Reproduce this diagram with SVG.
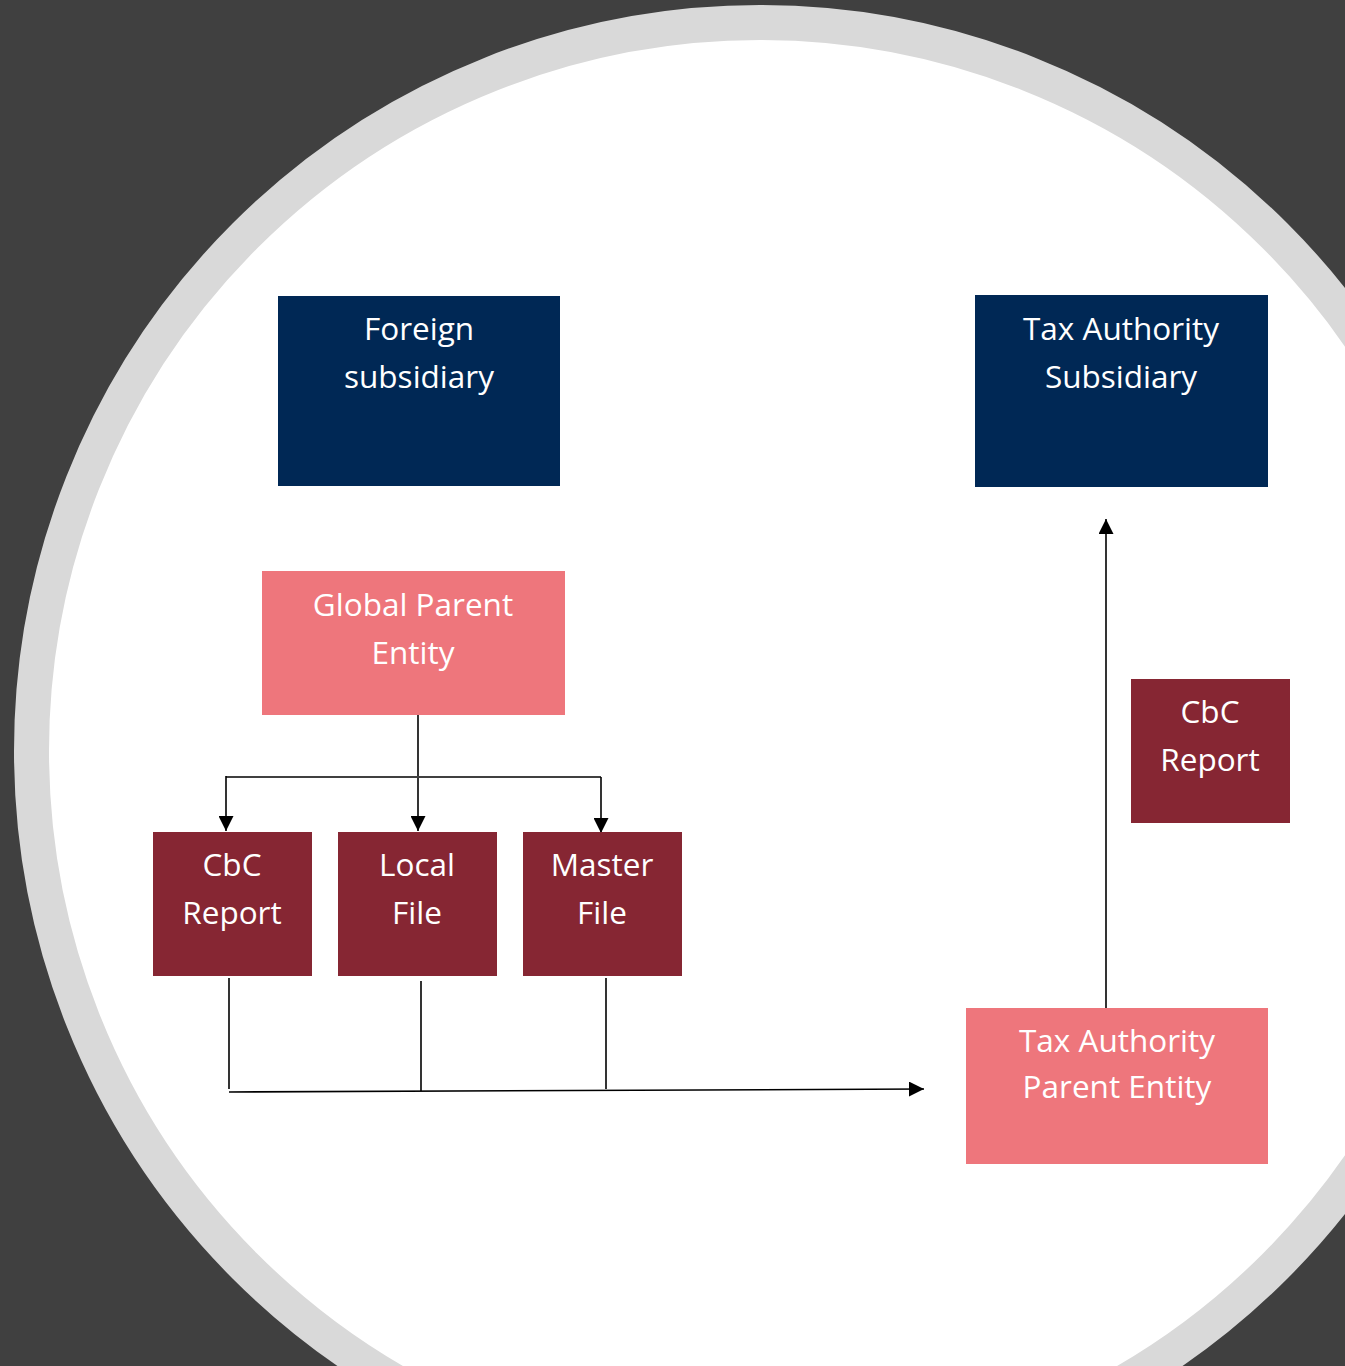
<svg xmlns="http://www.w3.org/2000/svg" width="1345" height="1366" viewBox="0 0 1345 1366">
<defs>
<style>
.nv{fill:#002855}
.pk{fill:#EE767C}
.mr{fill:#862633}
.t{font-family:"Open Sans","Noto Sans","Liberation Sans",sans-serif;font-size:31.5px;fill:#ffffff;text-anchor:middle}
.ln{stroke:#000;stroke-width:1.6;fill:none}
.lg{stroke:#404040;stroke-width:2;fill:none}
</style>
<marker id="ah" viewBox="0 0 10 10" refX="10" refY="5" markerWidth="15" markerHeight="15" markerUnits="userSpaceOnUse" orient="auto">
<path d="M0,0 L10,5 L0,10 Z" fill="#000"/>
</marker>
</defs>
<rect x="0" y="0" width="1345" height="1366" fill="#404040"/>
<circle cx="760" cy="751" r="728.5" fill="#ffffff" stroke="#D9D9D9" stroke-width="35"/>

<g id="connectors">
<line class="ln" x1="418" y1="715" x2="418" y2="831" marker-end="url(#ah)"/>
<line class="lg" x1="226" y1="777" x2="601" y2="777"/>
<line class="ln" x1="226" y1="776" x2="226" y2="831" marker-end="url(#ah)"/>
<line class="ln" x1="601" y1="777" x2="601" y2="833" marker-end="url(#ah)"/>
<line class="ln" x1="229" y1="978" x2="229" y2="1089"/>
<line class="ln" x1="421" y1="981" x2="421" y2="1091"/>
<line class="ln" x1="606" y1="978" x2="606" y2="1089"/>
<line class="ln" x1="229" y1="1092" x2="924" y2="1089" marker-end="url(#ah)"/>
<line class="ln" x1="1106" y1="1008" x2="1106" y2="519" marker-end="url(#ah)"/>
</g>

<g id="foreign-subsidiary">
<rect class="nv" x="278" y="296" width="282" height="190"/>
<text class="t" x="419" y="340">Foreign</text>
<text class="t" x="419" y="388">subsidiary</text>
</g>
<g id="tax-authority-subsidiary">
<rect class="nv" x="975" y="295" width="293" height="192"/>
<text class="t" x="1121" y="340">Tax Authority</text>
<text class="t" x="1121" y="388">Subsidiary</text>
</g>
<g id="global-parent-entity">
<rect class="pk" x="262" y="571" width="303" height="144"/>
<text class="t" x="413" y="616">Global Parent</text>
<text class="t" x="413" y="664">Entity</text>
</g>
<g id="cbc-report-left">
<rect class="mr" x="153" y="832" width="159" height="144"/>
<text class="t" x="232" y="876">CbC</text>
<text class="t" x="232" y="924">Report</text>
</g>
<g id="local-file">
<rect class="mr" x="338" y="832" width="159" height="144"/>
<text class="t" x="417" y="876">Local</text>
<text class="t" x="417" y="924">File</text>
</g>
<g id="master-file">
<rect class="mr" x="523" y="832" width="159" height="144"/>
<text class="t" x="602" y="876">Master</text>
<text class="t" x="602" y="924">File</text>
</g>
<g id="cbc-report-right">
<rect class="mr" x="1131" y="679" width="159" height="144"/>
<text class="t" x="1210" y="723">CbC</text>
<text class="t" x="1210" y="771">Report</text>
</g>
<g id="tax-authority-parent-entity">
<rect class="pk" x="966" y="1008" width="302" height="156"/>
<text class="t" x="1117" y="1052">Tax Authority</text>
<text class="t" x="1117" y="1098">Parent Entity</text>
</g>
</svg>
